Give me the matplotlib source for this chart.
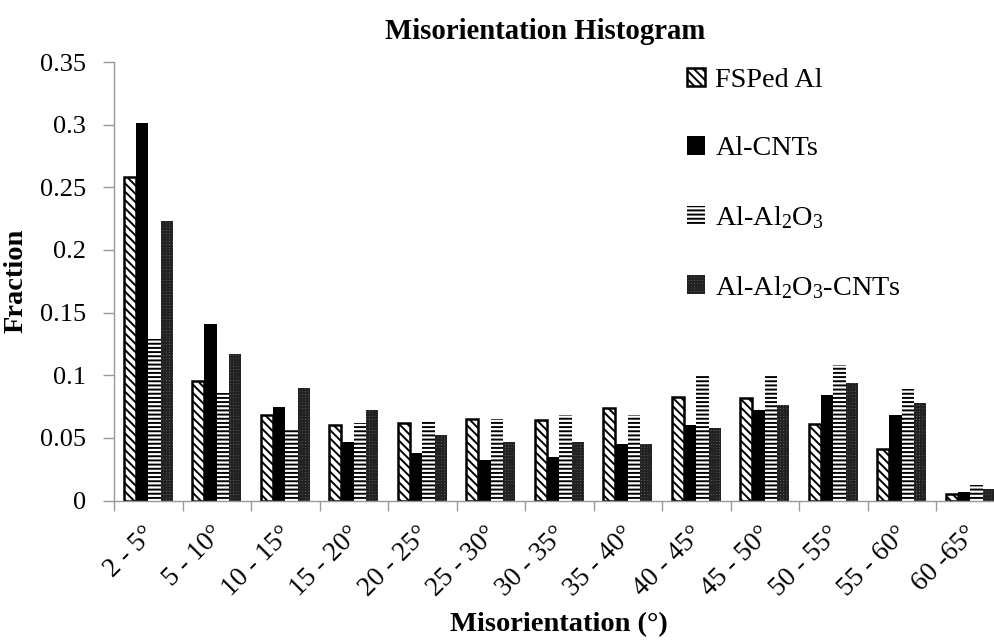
import numpy as np
import matplotlib
matplotlib.use('Agg')
import matplotlib.pyplot as plt
import matplotlib.transforms as mtransforms
from matplotlib.ticker import FuncFormatter, MultipleLocator, FixedLocator

plt.rcParams['font.family'] = ['Liberation Serif', 'DejaVu Serif']
plt.rcParams['mathtext.default'] = 'regular'
plt.rcParams['hatch.linewidth'] = 1.4

# data
bins = ['2 - 5°', '5 - 10°', '10 - 15°', '15 - 20°', '20 - 25°', '25 - 30°',
        '30 - 35°', '35 - 40°', '40 - 45°', '45 - 50°', '50 - 55°', '55 - 60°',
        '60 -65°']
fsped = [0.258, 0.095, 0.068, 0.060, 0.062, 0.065, 0.064, 0.074, 0.083, 0.082, 0.061, 0.041, 0.005]
al_cnt = [0.301, 0.141, 0.075, 0.047, 0.038, 0.032, 0.035, 0.045, 0.060, 0.072, 0.084, 0.068, 0.007]
al_al2o3 = [0.129, 0.086, 0.057, 0.062, 0.063, 0.065, 0.068, 0.068, 0.099, 0.099, 0.108, 0.089, 0.012]
al_al2o3_cnt = [0.223, 0.117, 0.090, 0.072, 0.052, 0.047, 0.047, 0.045, 0.058, 0.076, 0.094, 0.078, 0.009]
labels = ['FSPed Al', 'Al-CNTs', 'Al-Al$_2$O$_3$', 'Al-Al$_2$O$_3$-CNTs']

fig = plt.figure(figsize=(9.95, 6.44), dpi=100)
ax = fig.add_axes([0.1146, 0.2228, 0.895, 0.6809])

x = np.arange(len(bins))
w = 0.18

ax.bar(x - 1.5 * w, fsped, w, facecolor='white', edgecolor='black',
       hatch='\\\\\\\\', linewidth=1.8, label=labels[0])
ax.bar(x - 0.5 * w, al_cnt, w, color='black', linewidth=0, label=labels[1])
ax.bar(x + 0.5 * w, al_al2o3, w, facecolor='white', edgecolor='black',
       hatch='----', linewidth=0, label=labels[2])
ax.bar(x + 1.5 * w, al_al2o3_cnt, w, facecolor='#8a8a8a', edgecolor='#222222',
       hatch='++++++', linewidth=0, label=labels[3])

ax.set_xlim(-0.5, len(bins) - 0.5)
ax.set_ylim(0, 0.35)
ax.yaxis.set_major_locator(MultipleLocator(0.05))
ax.yaxis.set_major_formatter(FuncFormatter(lambda v, p: f'{v:g}'))

ax.set_xticks(x)
ax.set_xticklabels(bins, rotation=45, ha='right', rotation_mode='anchor')
ax.xaxis.set_minor_locator(FixedLocator(np.arange(len(bins) + 1) - 0.5))
ax.tick_params(axis='x', which='major', length=0, pad=15, labelsize=19.5)
ax.tick_params(axis='x', which='minor', length=7, color='#999999', width=1)
ax.tick_params(axis='y', length=8, color='#999999', width=1, pad=12, labelsize=19)

# nudge the rotated labels a little to the left
shift = mtransforms.ScaledTranslation(-6 / 100, 0, fig.dpi_scale_trans)
for lab in ax.get_xticklabels():
    lab.set_transform(lab.get_transform() + shift)

for s in ['top', 'right']:
    ax.spines[s].set_visible(False)
for s in ['left', 'bottom']:
    ax.spines[s].set_color('#999999')
    ax.spines[s].set_linewidth(1)

ax.set_xlabel('Misorientation (°)', fontsize=20.5, fontweight='bold', labelpad=8)
ax.set_ylabel('Fraction', fontsize=20.5, fontweight='bold', labelpad=8)

fig.text(0.548, 0.951, 'Misorientation Histogram', fontsize=20.7,
         fontweight='bold', ha='center', va='center')

leg = ax.legend(loc='upper left', bbox_to_anchor=(0.615, 1.045), frameon=False,
                fontsize=20.3, handlelength=0.65, handleheight=0.65,
                labelspacing=1.52, handletextpad=0.35)

fig.savefig('out.png', dpi=100)
